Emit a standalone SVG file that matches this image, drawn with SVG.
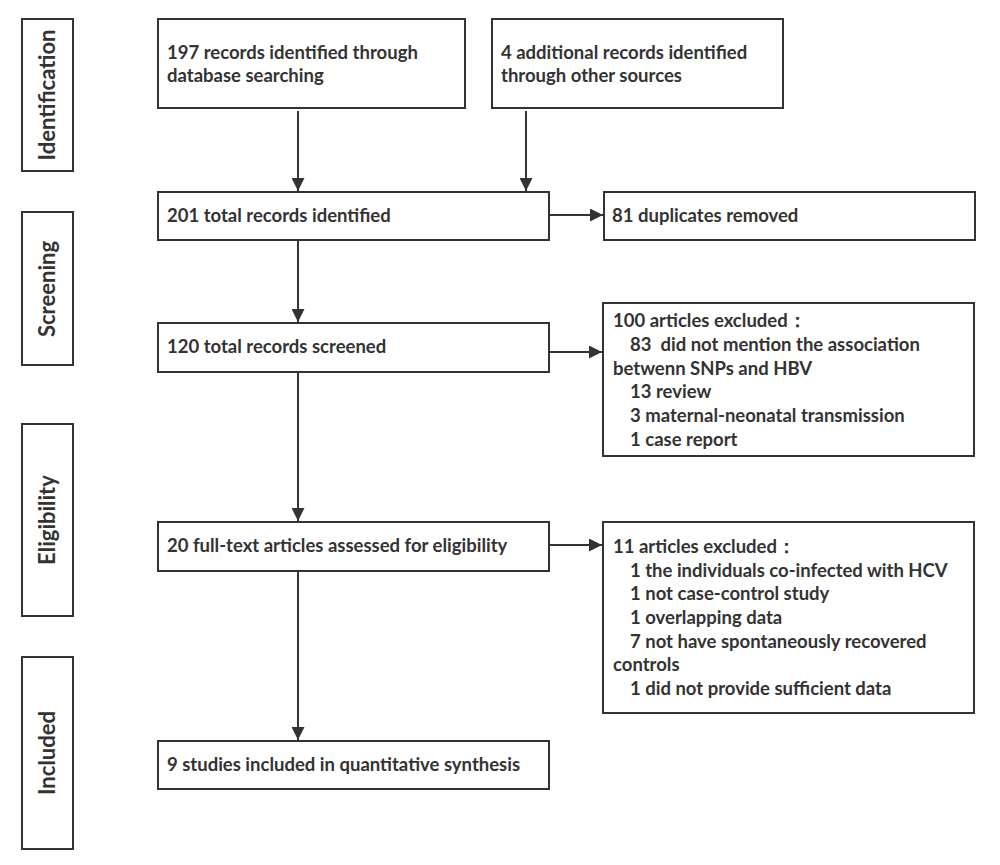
<svg xmlns="http://www.w3.org/2000/svg" width="1000" height="865" viewBox="0 0 1000 865">
<defs>
<style>
.box{fill:#fff;stroke:#333;stroke-width:2}
.t{font-family:Lato,"Liberation Sans",sans-serif;font-weight:bold;font-size:18.5px;fill:#333}
.s{font-family:Lato,"Liberation Sans",sans-serif;font-weight:bold;font-size:22px;fill:#333;text-anchor:middle}
.c{stroke:#333;stroke-width:2;fill:none;marker-end:url(#ah)}
</style>
<marker id="ah" viewBox="0 0 10 10" refX="10" refY="5" markerWidth="6.5" markerHeight="6.5" markerUnits="strokeWidth" orient="auto">
<path d="M0,0 L10,5 L0,10 z" fill="#333"/>
</marker>
</defs>
<rect width="1000" height="865" fill="#fff"/>
<g id="stage-identification"><rect class="box" x="22" y="19" width="51" height="152"/><text class="s" transform="translate(55,95) rotate(-90)">Identification</text></g>
<g id="stage-screening"><rect class="box" x="22" y="212" width="51" height="153"/><text class="s" transform="translate(55,289) rotate(-90)">Screening</text></g>
<g id="stage-eligibility"><rect class="box" x="22" y="424" width="51" height="192"/><text class="s" transform="translate(55,520) rotate(-90)">Eligibility</text></g>
<g id="stage-included"><rect class="box" x="22" y="657" width="51" height="192"/><text class="s" transform="translate(55,753) rotate(-90)">Included</text></g>
<g id="database"><rect class="box" x="158" y="19" width="307" height="89"/><text class="t" x="167" y="59">197 records identified through</text><text class="t" x="167" y="82">database searching</text></g>
<g id="other"><rect class="box" x="492" y="19" width="291" height="89"/><text class="t" x="501" y="59">4 additional records identified</text><text class="t" x="501" y="82">through other sources</text></g>
<g id="total"><rect class="box" x="158" y="192" width="391" height="48"/><text class="t" x="167" y="222">201 total records identified</text></g>
<g id="duplicates"><rect class="box" x="604" y="192" width="371" height="48"/><text class="t" x="612" y="222">81 duplicates removed</text></g>
<g id="screened"><rect class="box" x="158" y="323" width="391" height="49"/><text class="t" x="167" y="353">120 total records screened</text></g>
<g id="excluded1"><rect class="box" x="603" y="303" width="371" height="153"/>
<text class="t" x="613" y="327">100 articles excluded：</text>
<text class="t" x="630" y="351">83&#160; did not mention the association</text>
<text class="t" x="613" y="375">betwenn SNPs and HBV</text>
<text class="t" x="630" y="398">13 review</text>
<text class="t" x="630" y="422">3 maternal-neonatal transmission</text>
<text class="t" x="630" y="446">1 case report</text></g>
<g id="fulltext"><rect class="box" x="158" y="522" width="391" height="49"/><text class="t" x="167" y="552">20 full-text articles assessed for eligibility</text></g>
<g id="excluded2"><rect class="box" x="603" y="522" width="371" height="191"/>
<text class="t" x="613" y="553">11 articles excluded：</text>
<text class="t" x="630" y="577">1 the individuals co-infected with HCV</text>
<text class="t" x="630" y="600">1 not case-control study</text>
<text class="t" x="630" y="624">1 overlapping data</text>
<text class="t" x="630" y="648">7 not have spontaneously recovered</text>
<text class="t" x="613" y="671">controls</text>
<text class="t" x="630" y="695">1 did not provide sufficient data</text></g>
<g id="included"><rect class="box" x="158" y="741" width="391" height="48"/><text class="t" x="167" y="771">9 studies included in quantitative synthesis</text></g>
<g id="connectors">
<line class="c" x1="298" y1="111" x2="298" y2="191"/>
<line class="c" x1="526" y1="111" x2="526" y2="191"/>
<line class="c" x1="549" y1="215" x2="603" y2="215"/>
<line class="c" x1="298" y1="240" x2="298" y2="322"/>
<line class="c" x1="549" y1="352" x2="602" y2="352"/>
<line class="c" x1="298" y1="372" x2="298" y2="521"/>
<line class="c" x1="549" y1="545" x2="602" y2="545"/>
<line class="c" x1="298" y1="571" x2="298" y2="740"/>
</g>
</svg>
